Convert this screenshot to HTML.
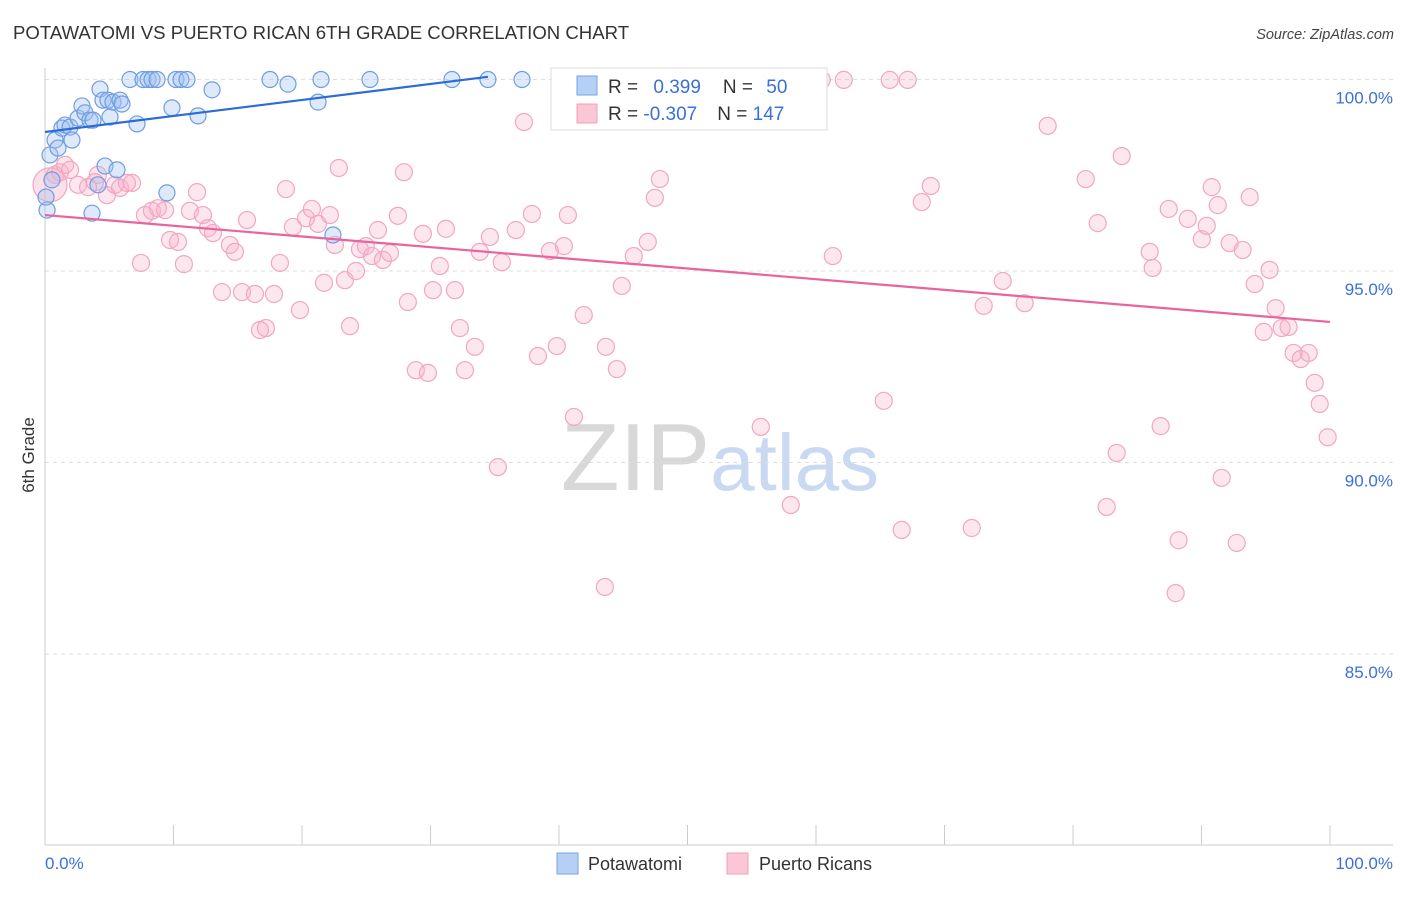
<!DOCTYPE html>
<html><head><meta charset="utf-8"><style>
body{margin:0;background:#fff;font-family:"Liberation Sans",sans-serif;}
svg text{font-family:"Liberation Sans",sans-serif;}
</style></head><body>
<svg id="chart" width="1406" height="892" xmlns="http://www.w3.org/2000/svg">
<text x="13" y="39" font-size="18.6" fill="#333">POTAWATOMI VS PUERTO RICAN 6TH GRADE CORRELATION CHART</text>
<text x="1394" y="39" font-size="14.5" fill="#444" font-style="italic" text-anchor="end">Source: ZipAtlas.com</text>
<text x="720" y="490" font-size="96" text-anchor="middle" fill="#d8d8d8" font-family="Liberation Serif"><tspan>ZIP</tspan><tspan fill="#c9d9f2" font-family="Liberation Sans" font-size="80">atlas</tspan></text>
<g id="grid"></g><g id="axes"></g><g id="pts"></g><g id="lines"></g>
<text transform="translate(34,455) rotate(-90)" font-size="17" fill="#333" text-anchor="middle">6th Grade</text>
<text x="45" y="869" font-size="17" fill="#3a70d8">0.0%</text>
<text x="1393" y="869" font-size="17" fill="#3a70d8" text-anchor="end">100.0%</text>
<g>
<rect x="551" y="68" width="276" height="62" fill="#fff" stroke="#ddd"/>
<rect x="577" y="76" width="20" height="19" fill="#b6cff5" stroke="#7aa3e6"/>
<rect x="577" y="104" width="20" height="19" fill="#fbc6d6" stroke="#f0a0bb"/>
<text x="608" y="93" font-size="19" fill="#333">R = <tspan fill="#3a70d8" dx="10">0.399</tspan><tspan dx="22">N = </tspan><tspan fill="#3a70d8" dx="8">50</tspan></text>
<text x="608" y="120" font-size="19" fill="#333">R = <tspan fill="#3a70d8">-0.307</tspan><tspan dx="20">N = </tspan><tspan fill="#3a70d8">147</tspan></text>
</g>
<g><rect x="557" y="853" width="21" height="21" fill="#b6cff5" stroke="#7aa3e6"/><text x="588" y="870" font-size="18" fill="#333">Potawatomi</text></g>
<g><rect x="727" y="853" width="21" height="21" fill="#fbc6d6" stroke="#f0a0bb"/><text x="759" y="870" font-size="18" fill="#333">Puerto Ricans</text></g>
</svg>
<script>
const yTicks=[100,95,90,85];
const yTickLabels=["100.0%","95.0%","90.0%","85.0%"];
const blueX=[0.16,0.39,0.78,1.01,1.32,1.56,1.95,2.1,2.57,2.88,3.11,3.5,3.74,3.66,4.12,4.28,4.51,4.67,4.9,5.29,5.6,5.84,5.99,5.06,6.61,7.16,7.63,8.02,8.33,8.72,9.49,9.88,10.19,10.58,11.05,11.91,13.0,17.51,18.91,21.25,21.48,22.41,25.29,31.67,34.47,37.12,43.19,0.08,0.54];
const blueY=[96.59,98.03,98.42,98.21,98.73,98.81,98.76,98.42,98.99,99.31,99.13,98.94,98.94,96.51,97.25,99.75,99.46,97.74,99.46,99.41,97.64,99.46,99.36,99.02,100,98.84,100,100,100,100,97.04,99.26,100,100,100,99.05,99.73,100,99.88,99.41,100,95.94,100,100,100,100,100,96.93,97.38];
const pinkX=[0.78,1.17,1.56,1.95,2.57,3.35,3.89,4.12,4.82,5.45,5.84,6.38,6.77,7.47,7.78,8.32,8.79,9.34,9.73,10.35,10.81,11.28,11.83,12.29,12.68,13.07,13.77,14.39,14.78,15.33,15.72,16.34,16.73,17.19,17.82,18.28,18.75,19.29,19.84,20.31,20.77,21.24,21.71,22.17,22.56,22.87,23.34,23.73,24.2,24.51,24.97,25.44,25.91,26.3,26.84,27.46,27.93,28.24,28.86,29.41,29.8,30.19,30.73,31.2,31.9,32.29,32.68,33.45,33.84,34.62,35.24,35.55,36.64,37.27,37.89,38.36,39.29,39.83,40.38,40.69,41.16,41.93,42.95,43.57,43.65,44.5,44.89,45.82,46.91,47.46,47.85,48.94,51.35,53.22,55.7,58.04,58.74,59.91,60.45,61.31,62.16,65.27,65.74,66.67,67.14,68.23,68.93,72.12,73.05,74.53,76.24,78.03,80.99,81.92,82.62,83.4,83.79,85.97,86.2,86.82,87.45,87.99,88.22,88.93,90.02,90.41,90.79,91.26,91.57,92.19,92.74,93.2,93.75,94.14,94.84,95.3,95.77,96.24,96.78,97.17,97.72,98.34,98.81,99.2,99.82];
const pinkY=[97.51,97.58,97.77,97.64,97.25,97.19,97.32,97.51,96.98,97.25,97.17,97.3,97.3,95.21,96.46,96.57,96.64,96.59,95.81,95.76,95.18,96.57,97.06,96.46,96.12,95.99,94.45,95.68,95.5,94.45,96.33,94.4,93.46,93.51,94.4,95.21,97.14,96.15,93.98,96.38,96.62,96.23,94.69,96.46,95.68,97.69,94.76,93.56,95.0,95.57,95.65,95.39,96.07,95.29,95.47,96.44,97.58,94.19,92.41,95.97,92.34,94.5,95.13,96.1,94.5,93.51,92.41,93.02,95.5,95.89,89.88,95.23,96.07,98.89,96.49,92.78,95.52,93.04,95.65,96.46,91.19,93.85,99.99,86.75,93.02,92.44,94.61,95.39,95.76,96.91,97.4,99.99,99.99,99.99,90.93,88.89,99.99,99.99,99.99,95.39,99.99,91.61,99.99,88.24,99.99,96.8,97.22,88.29,94.09,94.74,94.16,98.79,97.4,96.25,88.84,90.25,98.0,95.5,95.08,90.95,96.62,86.59,87.97,96.36,95.83,96.18,97.19,96.72,89.6,95.73,87.9,95.55,96.93,94.66,93.41,95.03,94.03,93.51,93.54,92.86,92.7,92.86,92.08,91.53,90.66];
const bigPink=[0.39,97.25];
const blueTrend=[[0,98.63],[34.47,100.07]];
const pinkTrend=[[0,96.46],[100,93.67]];
const NS="http://www.w3.org/2000/svg";
const sx=v=>45+v*12.85, sy=v=>79.5+(100-v)*38.3;
function mk(tag,attrs,parent){const e=document.createElementNS(NS,tag);for(const k in attrs)e.setAttribute(k,attrs[k]);document.getElementById(parent).appendChild(e);return e;}
yTicks.forEach((t,i)=>{
 const g=mk('line',{x1:45,x2:1393,y1:sy(t),y2:sy(t),stroke:'#ddd','stroke-dasharray':'4,4'},'grid');
 
 
 const l=mk('text',{x:1393,y:sy(t)+24,'font-size':17,fill:'#3a70d8','text-anchor':'end'},'grid');
 l.textContent=yTickLabels[i];
 
 
});
const ax=mk('line',{x1:45,x2:1393,y1:845,y2:845,stroke:'#ccc'},'axes');


const ay=mk('line',{x1:45,x2:45,y1:68,y2:845,stroke:'#ccc'},'axes');


for(let i=0;i<=10;i++){const t=mk('line',{x1:sx(i*10),x2:sx(i*10),y1:825,y2:845,stroke:'#ccc'},'axes');
 
 }
pinkX.forEach((x,i)=>{const c=mk('circle',{cx:sx(x),cy:sy(pinkY[i]),r:8.5,fill:'rgba(248,175,198,0.3)',stroke:'#f2a6c0','stroke-width':1.2},'pts');
 
 });
const bp=mk('circle',{cx:sx(bigPink[0]),cy:sy(bigPink[1]),r:17,fill:'rgba(248,175,198,0.4)',stroke:'#f2a6c0','stroke-width':1.2},'pts');


blueX.forEach((x,i)=>{const c=mk('circle',{cx:sx(x),cy:sy(blueY[i]),r:8,fill:'rgba(160,192,242,0.35)',stroke:'#6f9de2','stroke-width':1.2},'pts');
 
 });
const bl=mk('line',{x1:sx(blueTrend[0][0]),y1:sy(blueTrend[0][1]),x2:sx(blueTrend[1][0]),y2:sy(blueTrend[1][1]),stroke:'#2a6dd6','stroke-width':2.2},'lines');


const pl=mk('line',{x1:sx(pinkTrend[0][0]),y1:sy(pinkTrend[0][1]),x2:sx(pinkTrend[1][0]),y2:sy(pinkTrend[1][1]),stroke:'#e8649a','stroke-width':2.2},'lines');


</script>
</body></html>
